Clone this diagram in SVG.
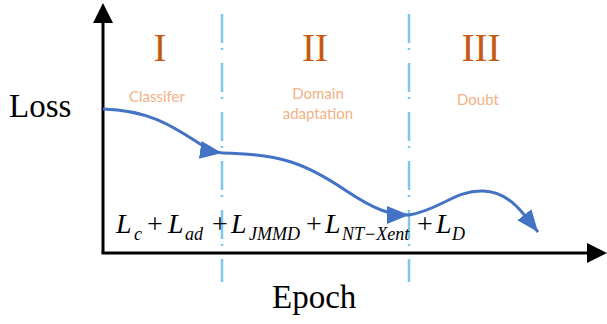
<svg xmlns="http://www.w3.org/2000/svg" width="607" height="324" viewBox="0 0 607 324">
<style>
.axis{stroke:#000;stroke-width:3;fill:none}
.div{stroke:#7fc6ec;stroke-width:2.5;fill:none;stroke-dasharray:29 5 2 13}
.curve{stroke:#4472c4;stroke-width:3;fill:none;marker-end:url(#blueArrow)}
.roman{font-family:"Liberation Serif",serif;font-size:39px;fill:#c55a11;text-anchor:middle}
.lab{font-family:Lato,"Open Sans",sans-serif;font-size:15px;fill:#f4b183;text-anchor:middle}
.big{font-family:"Liberation Serif",serif;font-size:33px;fill:#000}
.m{font-family:"Liberation Serif",serif;font-size:28px;fill:#000;font-style:italic}
.s{font-family:"Liberation Serif",serif;font-size:18px;fill:#000;font-style:italic}
.p{font-family:"Liberation Serif",serif;font-size:28px;fill:#000}
</style>
<defs>
<marker id="blueArrow" markerUnits="userSpaceOnUse" markerWidth="24" markerHeight="20" refX="22" refY="9" orient="auto">
<path d="M0,0 L22,9 L0,18 Z" fill="#4472c4"/>
</marker>
</defs>
<rect width="607" height="324" fill="#fff"/>
<g id="dividers">
<line class="div" x1="222" y1="14" x2="222" y2="282"/>
<line class="div" x1="409" y1="14" x2="409" y2="282"/>
</g>
<g id="axes">
<line class="axis" x1="103" y1="253" x2="103" y2="20"/>
<polygon points="103,3 93,23 113,23" fill="#000"/>
<line class="axis" x1="101.5" y1="253" x2="590" y2="253"/>
<polygon points="607,253 587,243 587,263" fill="#000"/>
<text class="big" x="9" y="117">Loss</text>
<text class="big" x="272" y="308">Epoch</text>
</g>
<g id="phase1">
<text class="roman" x="160" y="61">I</text>
<text class="lab" x="157" y="102">Classifer</text>
</g>
<g id="phase2">
<text class="roman" x="315" y="61">II</text>
<text class="lab" x="318" y="99">Domain</text>
<text class="lab" x="318" y="119">adaptation</text>
</g>
<g id="phase3">
<text class="roman" x="481" y="61">III</text>
<text class="lab" x="478" y="105">Doubt</text>
</g>
<g id="connectors">
<path class="curve" d="M103,109 C150,110 175,128 200,144 C208,149 215,152 222,153"/>
<path class="curve" d="M222,153 C280,154 305,163 345,190 C375,210 390,215 409,215"/>
<path class="curve" d="M409,215 C440,210 455,190 483,191 C510,192 523,213 538,232"/>
</g>
<g id="formula">
<text class="m" x="116" y="233">L</text>
<text class="s" x="134" y="240">c</text>
<text class="p" x="147" y="233">+</text>
<text class="m" x="168" y="233">L</text>
<text class="s" x="185" y="240">ad</text>
<text class="p" x="212" y="233">+</text>
<text class="m" x="231" y="233">L</text>
<text class="s" x="249" y="240">JMMD</text>
<text class="p" x="306" y="233">+</text>
<text class="m" x="325" y="233">L</text>
<text class="s" x="342" y="240">NT−Xent</text>
<text class="p" x="417" y="233">+</text>
<text class="m" x="436" y="233">L</text>
<text class="s" x="452" y="240">D</text>
</g>
</svg>
